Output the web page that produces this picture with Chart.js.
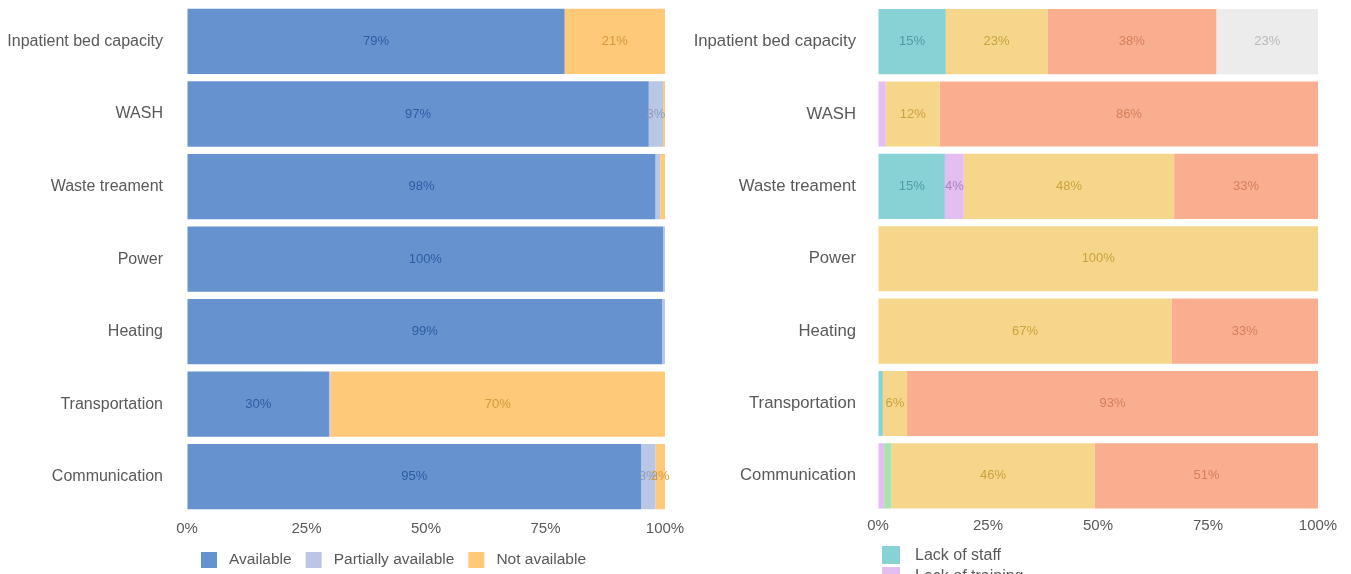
<!DOCTYPE html>
<html>
<head>
<meta charset="utf-8">
<script src="https://cdn.jsdelivr.net/npm/chart.js@4/dist/chart.umd.min.js"></script>
<style>
  body { margin: 0; background: #fff; overflow: hidden; font-family: "Liberation Sans", Arial, sans-serif; }
  #left { position: absolute; left: 0; top: 0; width: 685px; height: 578px; }
  #right { position: absolute; left: 685px; top: 0; width: 666px; height: 574px; }
  #rightLegend { position: absolute; left: 882px; top: 546px; color: #595959; font-size: 16px; }
  #rightLegend div { height: 18px; line-height: 18px; margin-bottom: 3px; white-space: nowrap; }
  #rightLegend span { display: inline-block; width: 18px; height: 18px; vertical-align: top; margin-right: 15px; }
</style>
</head>
<body>
<div id="left"><canvas id="leftChart"></canvas></div>
<div id="right"><canvas id="rightChart"></canvas></div>
<div id="rightLegend"></div>
<script>
// categories (same on both panels)
const categories = ['Inpatient bed capacity', 'WASH', 'Waste treament', 'Power', 'Heating', 'Transportation', 'Communication'];
const xTicks = ['0%', '25%', '50%', '75%', '100%'];

// left panel: availability (%)
const available = [79, 96.6, 98, 99.6, 99.4, 29.7, 95];
const partiallyAvailable = [0, 3, 1, 0.4, 0.6, 0.3, 3];
const notAvailable = [21, 0.4, 1, 0, 0, 70, 2];

// right panel: reasons (%)
const lackOfStaff = [15.4, 0, 15.2, 0, 0, 1.1, 0];
const lackOfTraining = [0, 1.75, 4.3, 0, 0, 0, 1.4];
const lackOfEquipment = [0, 0, 0, 0, 0, 0, 1.6];
const lackOfSupplies = [23.1, 12.3, 47.8, 100, 66.7, 5.5, 46.3];
const damaged = [38.4, 85.95, 32.7, 0, 33.3, 93.4, 50.7];
const other = [23.1, 0, 0, 0, 0, 0, 0];

const FONT = '"Liberation Sans", Arial, sans-serif';
const CLEAR = 'rgba(0,0,0,0)';

// draws the percent text in the middle of each segment
const segmentLabels = {
  id: 'segmentLabels',
  afterDatasetsDraw(chart) {
    const ctx = chart.ctx;
    ctx.save();
    ctx.font = '13px ' + FONT;
    ctx.textAlign = 'center';
    ctx.textBaseline = 'middle';
    chart.data.datasets.forEach((ds, i) => {
      const meta = chart.getDatasetMeta(i);
      if (meta.hidden) return;
      meta.data.forEach((bar, j) => {
        const v = ds.data[j];
        if (v < 1.95) return;
        const p = bar.getProps(['x', 'y', 'base'], true);
        ctx.fillStyle = ds.labelColor;
        ctx.fillText(Math.round(v) + '%', (p.x + p.base) / 2, p.y);
      });
    });
    ctx.restore();
  }
};

function makeOptions(cfg) {
  return {
    indexAxis: 'y',
    responsive: true,
    maintainAspectRatio: false,
    animation: false,
    layout: { padding: { top: 0, right: cfg.padRight, left: 0, bottom: cfg.padBottom } },
    scales: {
      x: {
        stacked: true,
        min: 0,
        max: 100,
        // invisible tick marks just to space the labels from the bars
        grid: { display: true, drawOnChartArea: false, drawTicks: true, tickLength: cfg.xGap, color: CLEAR },
        border: { display: false },
        ticks: {
          stepSize: 25,
          padding: 0,
          color: '#595959',
          font: { family: FONT, size: 15 },
          callback: (v, i) => xTicks[i]
        }
      },
      y: {
        stacked: true,
        grid: { display: true, drawOnChartArea: false, drawTicks: true, tickLength: cfg.yGap, color: CLEAR },
        border: { display: false },
        ticks: { color: '#595959', padding: 0, font: { family: FONT, size: cfg.yFont, lineHeight: 0.65 } },
        afterFit: (s) => { s.width = cfg.yWidth; }
      }
    },
    plugins: {
      tooltip: { enabled: false },
      legend: {
        display: cfg.legend,
        position: 'bottom',
        align: 'start',
        fullSize: false,
        labels: {
          boxWidth: 16,
          boxHeight: 16,
          padding: 14,
          color: '#595959',
          font: { family: FONT, size: 15.5 },
          generateLabels: (chart) => Chart.defaults.plugins.legend.labels.generateLabels(chart)
            .map(l => Object.assign(l, { text: ' ' + l.text, lineWidth: 0 }))
        }
      }
    }
  };
}

function ds(label, data, color, labelColor) {
  return { label, data, backgroundColor: color, labelColor, borderWidth: 0, barPercentage: 0.9, categoryPercentage: 1 };
}

new Chart(document.getElementById('leftChart'), {
  type: 'bar',
  data: {
    labels: categories,
    datasets: [
      ds('Available', available, '#6792d0', '#2d5ca3'),
      ds('Partially available', partiallyAvailable, '#b9c6e6', '#8e9bb8'),
      ds('Not available', notAvailable, '#fec978', '#d69a3a')
    ]
  },
  options: makeOptions({ yWidth: 187, yFont: 16, yGap: 24, xGap: 7, padRight: 20, padBottom: 0, legend: true }),
  plugins: [segmentLabels]
});

const rightSeries = [
  ds('Lack of staff', lackOfStaff, '#88d1d5', '#4d9ea3'),
  ds('Lack of training', lackOfTraining, '#e2bff0', '#ab80c0'),
  ds('Lack of equipment', lackOfEquipment, '#a6e4b1', '#63a871'),
  ds('Lack of supplies', lackOfSupplies, '#f6d68b', '#c9a33f'),
  ds('Damaged or destroyed', damaged, '#f9ae8f', '#d57f5c'),
  ds('Other', other, '#ececec', '#b8b8b8')
];

new Chart(document.getElementById('rightChart'), {
  type: 'bar',
  data: { labels: categories, datasets: rightSeries },
  options: makeOptions({ yWidth: 193, yFont: 16.7, yGap: 22, xGap: 5, padRight: 33, padBottom: 39, legend: false }),
  plugins: [segmentLabels]
});

// right legend: one item per line, below the panel
const legendEl = document.getElementById('rightLegend');
rightSeries.forEach(s => {
  const row = document.createElement('div');
  const box = document.createElement('span');
  box.style.background = s.backgroundColor;
  row.appendChild(box);
  row.appendChild(document.createTextNode(s.label));
  legendEl.appendChild(row);
});
</script>
</body>
</html>
